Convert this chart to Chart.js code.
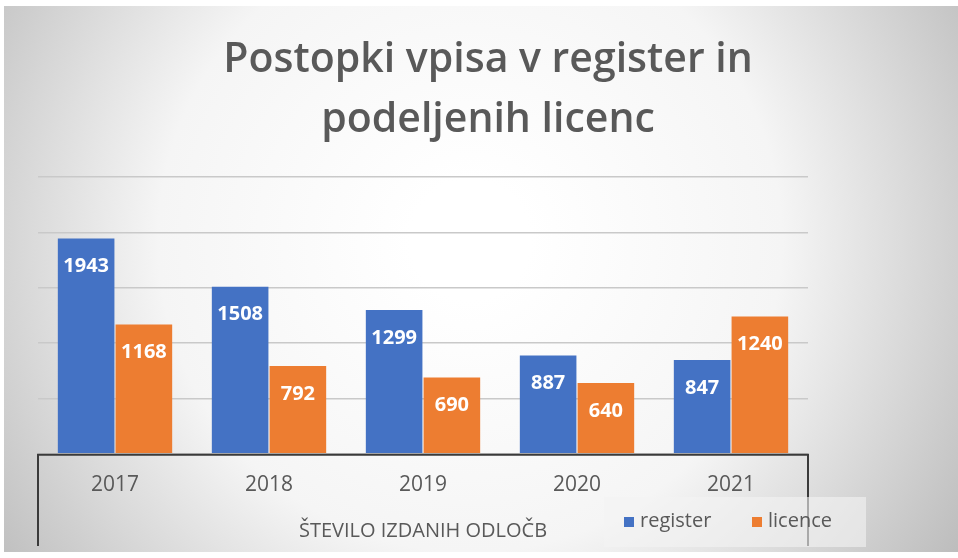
<!DOCTYPE html>
<html>
<head>
<meta charset="utf-8">
<script src="https://cdn.jsdelivr.net/npm/chart.js@4"></script>
<style>
  html, body { margin: 0; padding: 0; background: #fff; }
  #wrap { width: 958px; height: 558px; }
</style>
</head>
<body>
<div id="wrap"><canvas id="graph" width="958" height="558"></canvas></div>
<script>
// chart data
const years = ['2017', '2018', '2019', '2020', '2021']
const registerValues = [1943, 1508, 1299, 887, 847]
const licenceValues = [1168, 792, 690, 640, 1240]
const seriesNames = ['register', 'licence']
const titleLines = ['Postopki vpisa v register in', 'podeljenih licenc']
const axisTitle = 'ŠTEVILO IZDANIH ODLOČB'

const textGray = '#595959'
const fontFamily = '"Open Sans", "Noto Sans", sans-serif'

// grey radial background behind everything
const background = {
    id: 'background',
    beforeDraw(chart) {
        let c = chart.ctx
        let w = chart.width, h = chart.height
        c.save()
        c.fillStyle = '#ffffff'
        c.fillRect(0, 0, w, h)
        let g = c.createRadialGradient(470, 240, 60, 470, 240, 620)
        g.addColorStop(0, '#ffffff')
        g.addColorStop(0.45, '#f5f5f5')
        g.addColorStop(1, '#b4b4b4')
        c.fillStyle = g
        c.fillRect(4, 6, w - 4, h - 12)
        c.restore()
    }
}

// box round the category axis + white value labels in bars + legend
const extras = {
    id: 'extras',
    afterDatasetsDraw(chart) {
        let c = chart.ctx
        let area = chart.chartArea
        c.save()
        // value labels
        c.font = 'bold 20px ' + fontFamily
        c.fillStyle = '#ffffff'
        c.textAlign = 'center'
        c.textBaseline = 'middle'
        chart.data.datasets.forEach((ds, i) => {
            chart.getDatasetMeta(i).data.forEach((bar, j) => {
                c.fillText(ds.data[j], bar.x, bar.y + 28)
            })
        })
        // axis box (top, left, right)
        c.strokeStyle = '#3a3a3a'
        c.lineWidth = 2
        c.beginPath()
        c.moveTo(area.left, chart.height - 12)
        c.lineTo(area.left, area.bottom + 1)
        c.lineTo(area.right, area.bottom + 1)
        c.lineTo(area.right, chart.height - 12)
        c.stroke()
        // legend
        c.fillStyle = 'rgba(244,244,244,0.6)'
        c.fillRect(604, 497, 262, 50)
        c.font = '20px ' + fontFamily
        c.textAlign = 'left'
        let xs = [624, 752]
        chart.data.datasets.forEach((ds, i) => {
            c.fillStyle = ds.backgroundColor
            c.fillRect(xs[i], 517, 10, 10)
            c.fillStyle = textGray
            c.fillText(ds.label, xs[i] + 16, 521)
        })
        c.restore()
    }
}

new Chart(document.getElementById('graph'), {
    type: 'bar',
    data: {
        labels: years,
        datasets: [{
            label: seriesNames[0],
            data: registerValues,
            backgroundColor: '#4472c4'
        }, {
            label: seriesNames[1],
            data: licenceValues,
            backgroundColor: '#ed7d31'
        }]
    },
    options: {
        responsive: false,
        animation: false,
        events: [],
        layout: {
            padding: { left: 18, right: 0, top: 0, bottom: 0 }
        },
        datasets: {
            bar: { barPercentage: 0.98, categoryPercentage: 0.75 }
        },
        scales: {
            x: {
                grid: { display: false, drawTicks: false },
                border: { display: false },
                ticks: {
                    color: textGray,
                    padding: 18.5,
                    font: { family: fontFamily, size: 21 }
                },
                title: {
                    display: true,
                    text: axisTitle,
                    color: textGray,
                    font: { family: fontFamily, size: 20 },
                    padding: { top: 3, bottom: 15 }
                }
            },
            y: {
                min: 0,
                max: 2500,
                ticks: { display: false, stepSize: 500 },
                grid: { color: '#c9c9c9', lineWidth: 1.5, drawTicks: false },
                border: { display: false },
                afterFit: s => { s.width = 20 }
            },
            // empty right axis keeps room for the legend side
            side: {
                position: 'right',
                ticks: { display: false },
                grid: { display: false, drawTicks: false },
                border: { display: false },
                afterFit: s => { s.width = 150 }
            }
        },
        plugins: {
            legend: { display: false },
            tooltip: { enabled: false },
            title: {
                display: true,
                text: titleLines,
                color: textGray,
                font: { family: fontFamily, size: 41, weight: '600', lineHeight: 1.45 },
                padding: { top: 31, bottom: 27 }
            }
        }
    },
    plugins: [background, extras]
})
</script>
</body>
</html>
